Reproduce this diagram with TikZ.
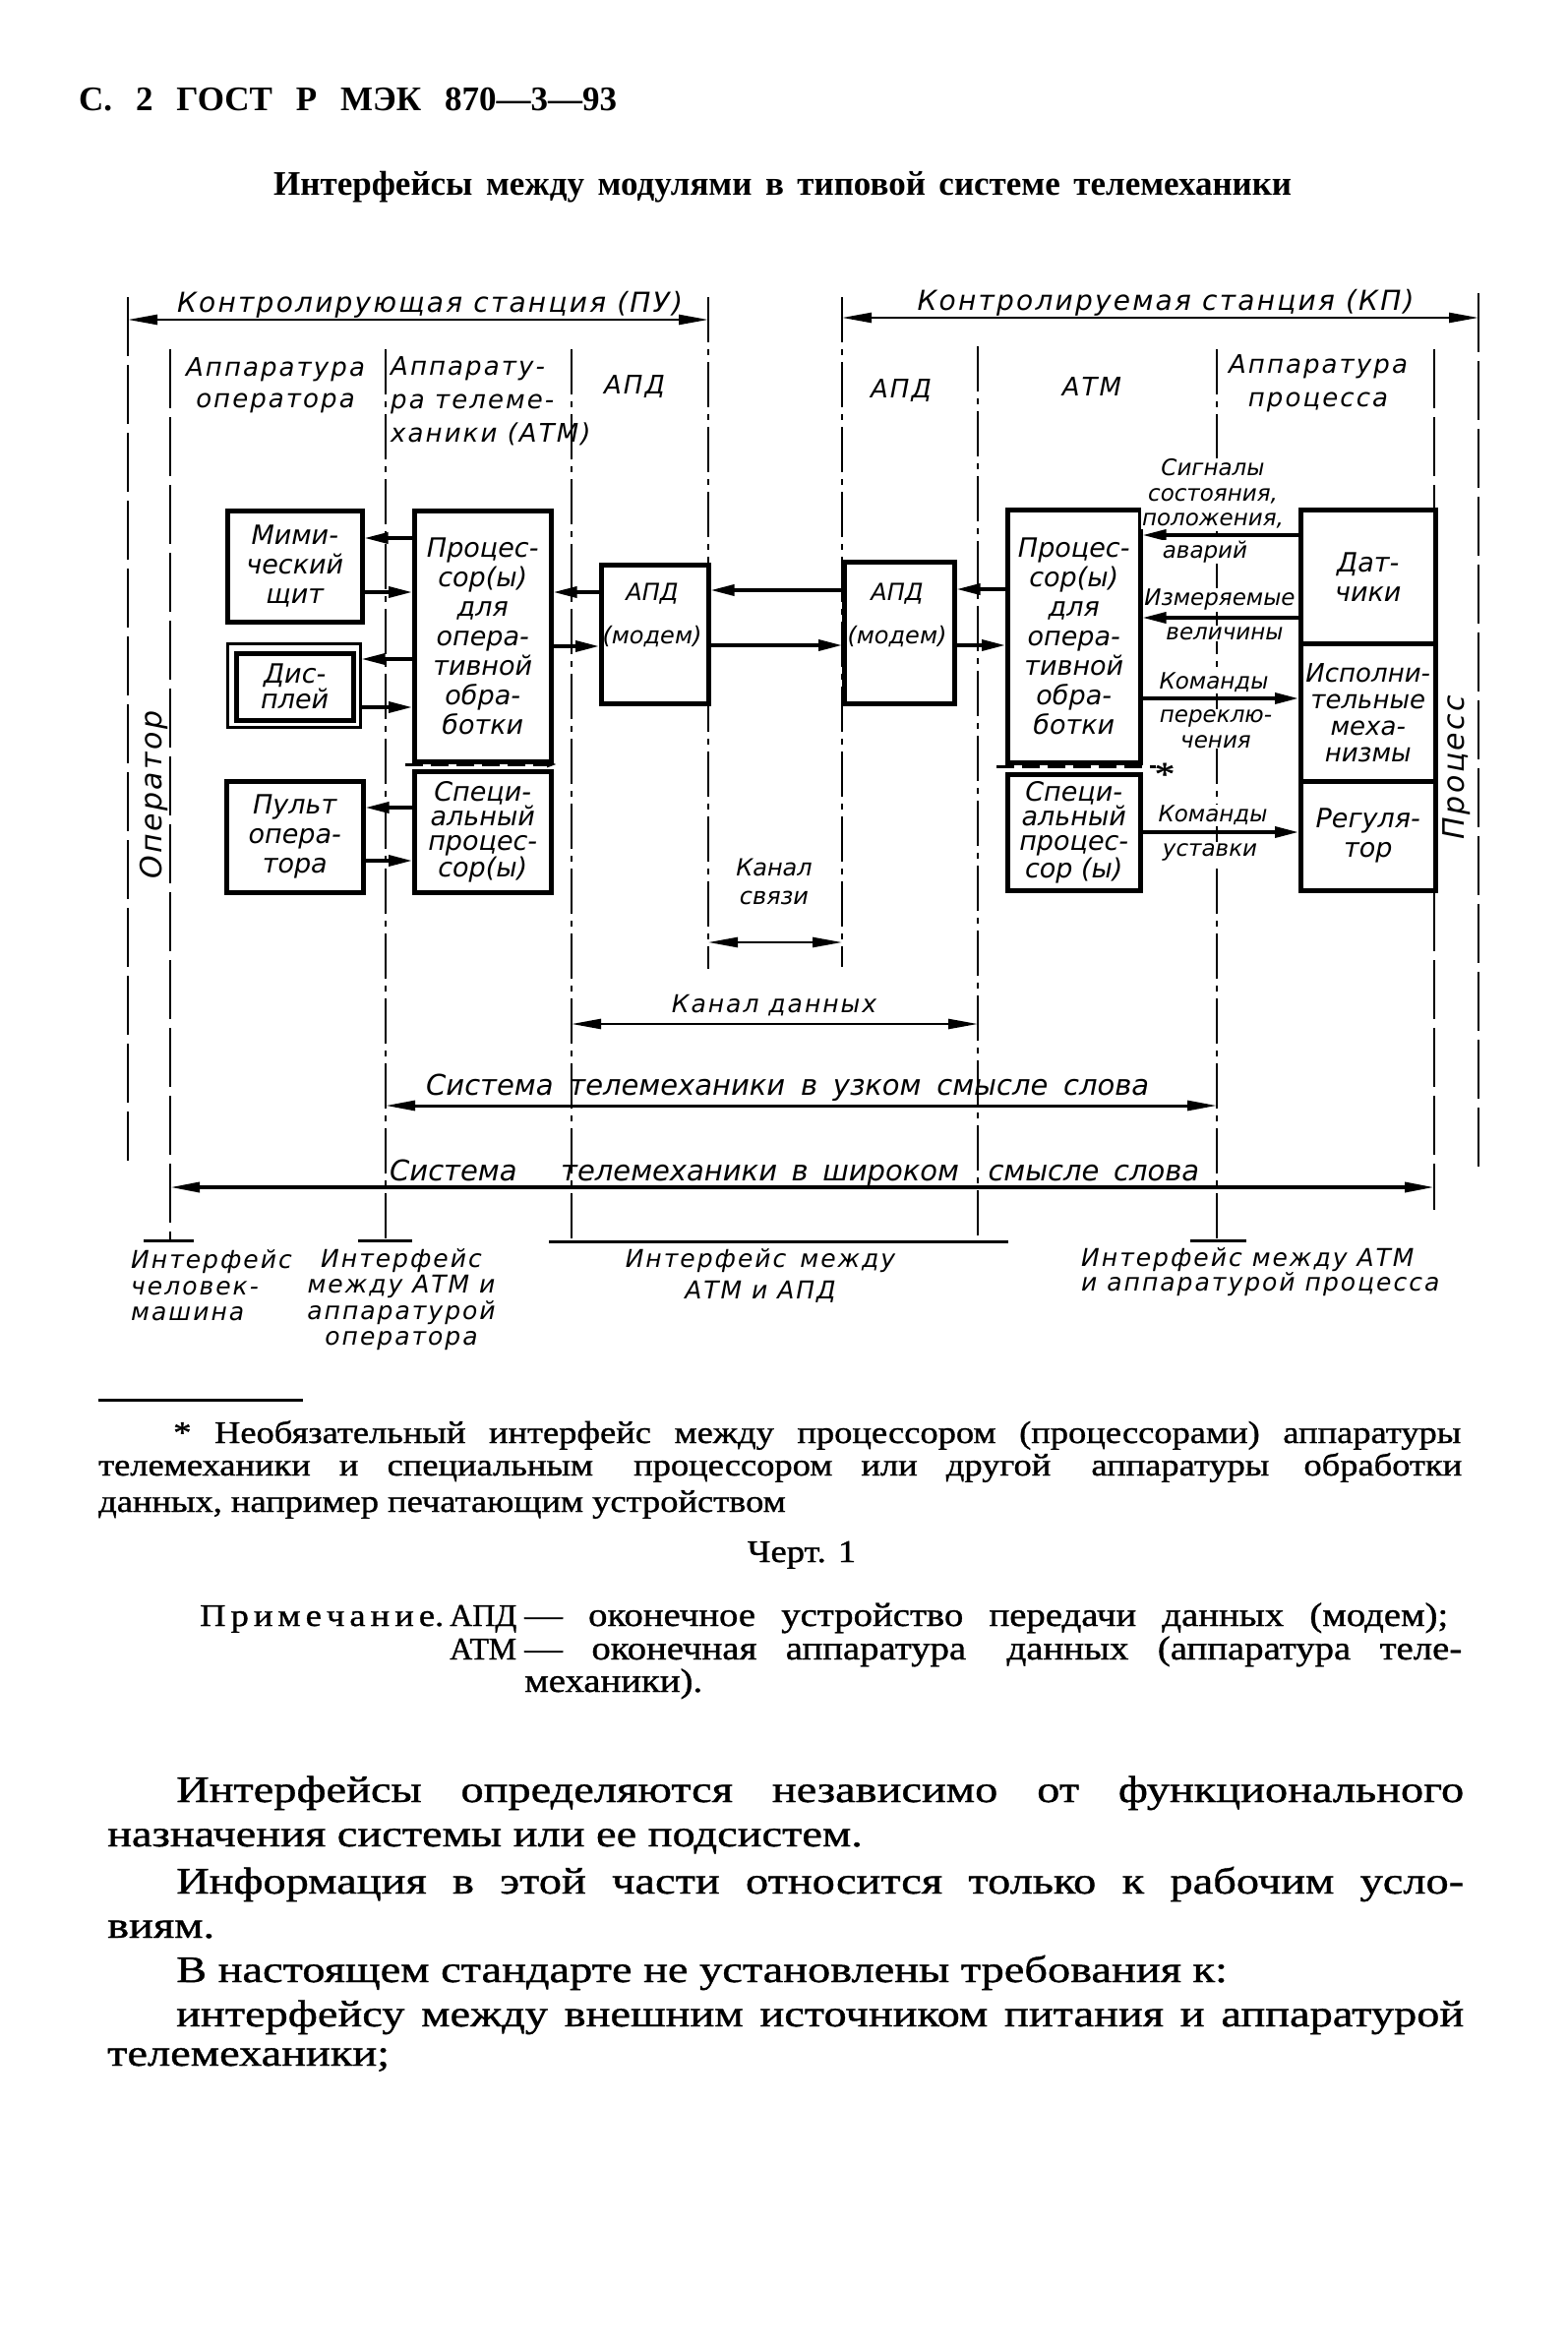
\documentclass[tikz,border=0pt]{standalone}
\usepackage{fontspec}
\usepackage{graphicx}
\setmainfont{Liberation Serif}
\newfontfamily\bodyf[FakeStretch=1.22, FakeBold=1]{Liberation Serif}
\newfontfamily\footf[FakeStretch=1.14, FakeBold=1]{Liberation Serif}
\newfontfamily\footc[FakeBold=1]{Liberation Serif}
\newfontfamily\gost{DejaVu Sans}
\newfontfamily\gostw[LetterSpace=8]{DejaVu Sans}
\usetikzlibrary{arrows.meta}
\newcommand\gs[2]{\gost\itshape\fontsize{#1pt}{#2pt}\selectfont}
\newcommand\gws[2]{\gostw\itshape\fontsize{#1pt}{#2pt}\selectfont}
\newcommand\bs[2]{\bodyf\fontsize{#1pt}{#2pt}\selectfont}
\newcommand\fs[2]{\footf\fontsize{#1pt}{#2pt}\selectfont}
\tikzset{
  boundl/.style={line width=2pt, dash pattern=on 46pt off 7pt on 6pt off 7pt},
  longdl/.style={line width=2pt, dash pattern=on 60pt off 9pt},
  blkbox/.style={draw, line width=4.5pt, anchor=north west, inner sep=0pt, align=center, font=\gs{27}{30}},
  arrw/.style={line width=3.5pt, -{Triangle[length=24pt,width=11pt]}},
  spanar/.style={line width=2.5pt, {Triangle[length=30pt,width=10pt]}-{Triangle[length=30pt,width=10pt]}},
  lblx/.style={inner sep=1pt, align=center, font=\gs{23}{25.5}},
  bodyt/.style={inner sep=0pt, anchor=base west, font=\bs{38}{40}},
  foott/.style={inner sep=0pt, anchor=base west, font=\fs{32}{36}},
}
\begin{document}
\begin{tikzpicture}[x=1pt,y=-1pt]
\fill[white] (0,0) rectangle (1594,2384);
\useasboundingbox (0,0) rectangle (1594,2384);

% header
\node[bodyt, font=\bfseries\fontsize{35pt}{40pt}\selectfont] (hdr) at (80,113) {\makebox[547pt][s]{С. 2 ГОСТ Р МЭК 870—3—93}};
\node[bodyt, font=\bfseries\fontsize{35pt}{40pt}\selectfont] (ttl) at (278,198) {\makebox[1035pt][s]{Интерфейсы между модулями в типовой системе телемеханики}};

% boundary lines
\draw[longdl] (130,302) -- (130,1180);
\draw[longdl] (173,355) -- (173,1261);
\draw[boundl] (392,355) -- (392,1261);
\draw[boundl] (581,355) -- (581,1262);
\draw[boundl] (720,302) -- (720,985);
\draw[boundl] (856,302) -- (856,983);
\draw[boundl] (994,352) -- (994,1262);
\draw[boundl] (1237,355) -- (1237,1261);
\draw[longdl] (1458,355) -- (1458,1230);
\draw[longdl] (1503,298) -- (1503,1187);
\draw[line width=3pt] (146,1261) -- (197,1261);
\draw[line width=3pt] (364,1261) -- (419,1261);
\draw[line width=3pt] (558,1262) -- (1025,1262);
\draw[line width=3pt] (1210,1261) -- (1267,1261);

% station spans
\coordinate (pu1) at (130,325); \coordinate (pu2) at (720,325);
\draw[spanar] (pu1) -- (pu2);
\node[font=\gws{28}{30}, anchor=base, inner sep=0pt] (putxt) at (437,317) {Контролирующая станция (ПУ)};
\coordinate (kp1) at (856,323); \coordinate (kp2) at (1503,323);
\draw[spanar] (kp1) -- (kp2);
\node[font=\gws{28}{30}, anchor=base, inner sep=0pt] (kptxt) at (1185,315) {Контролируемая станция (КП)};

% column headers
\node[font=\gws{26}{32}, align=center] (hop) at (280,392) {Аппаратура\\оператора};
\node[font=\gws{26}{34}, align=left, anchor=north west, inner sep=0pt] (hatm) at (397,362) {Аппарату-\\ра телеме-\\ханики (АТМ)};
\node[font=\gws{26}{32}] (hapd1) at (645,393) {АПД};
\node[font=\gws{26}{32}] (hapd2) at (916,397) {АПД};
\node[font=\gws{26}{32}] (hatm2) at (1110,393) {АТМ};
\node[font=\gws{26}{34}, align=center] (hproc) at (1340,390) {Аппаратура\\процесса};

% rotated
\node[font=\gws{30}{30}, rotate=90] (oper) at (156,808) {Оператор};
\node[font=\gws{30}{30}, rotate=90] (procs) at (1481,780) {Процесс};

% boxes left
\node[blkbox, minimum width=137pt, minimum height=113pt] (mim) at (229,517) {Мими-\\ческий\\щит};
\node[draw, line width=2.5pt, anchor=north west, inner sep=0pt, minimum width=135pt, minimum height=85pt] (dispo) at (230,653) {};
\node[blkbox, minimum width=119pt, minimum height=68pt, font=\gs{27}{26}] (dispi) at (238,662) {Дис-\\плей};
\node[blkbox, minimum width=139pt, minimum height=113pt] (pult) at (228,792) {Пульт\\опера-\\тора};
\node[blkbox, minimum width=139pt, minimum height=255pt] (procL) at (419,517) {Процес-\\сор(ы)\\для\\опера-\\тивной\\обра-\\ботки};
\node[blkbox, minimum width=139pt, minimum height=123pt, font=\gs{27}{25}] (specL) at (419,782) {Специ-\\альный\\процес-\\сор(ы)};
\node[blkbox, minimum width=109pt, minimum height=141pt] (apdL) at (609,572) {};
\node[font=\gs{24}{44}, align=center] (apdLt) at (663,625) {АПД\\(модем)};
% boxes right
\node[blkbox, minimum width=112pt, minimum height=144pt] (apdR) at (856,569) {};
\node[font=\gs{24}{44}, align=center] (apdRt) at (912,625) {АПД\\(модем)};
\node[blkbox, minimum width=135pt, minimum height=257pt] (procR) at (1022,516) {Процес-\\сор(ы)\\для\\опера-\\тивной\\обра-\\ботки};
\node[blkbox, minimum width=135pt, minimum height=118pt, font=\gs{27}{25}] (specR) at (1022,785) {Специ-\\альный\\процес-\\сор (ы)};
\node[blkbox, minimum width=137pt, minimum height=136pt] (datch) at (1320,516) {Дат-\\чики};
\node[blkbox, minimum width=137pt, minimum height=140pt, font=\gs{26}{27}] (ispol) at (1320,652) {Исполни-\\тельные\\меха-\\низмы};
\node[blkbox, minimum width=137pt, minimum height=111pt] (reg) at (1320,792) {Регуля-\\тор};

% arrows
\draw[arrw] (procL.west |- 0,547) -- (mim.east |- 0,547);
\draw[arrw] (mim.east |- 0,602) -- (procL.west |- 0,602);
\draw[arrw] (procL.west |- 0,670) -- (dispo.east |- 0,670);
\draw[arrw] (dispo.east |- 0,719) -- (procL.west |- 0,719);
\draw[arrw] (specL.west |- 0,821) -- (pult.east |- 0,821);
\draw[arrw] (pult.east |- 0,875) -- (specL.west |- 0,875);
\draw[arrw] (apdL.west |- 0,602) -- (procL.east |- 0,602);
\draw[arrw] (procL.east |- 0,657) -- (apdL.west |- 0,657);
\draw[arrw] (apdR.west |- 0,600) -- (apdL.east |- 0,600);
\draw[arrw] (apdL.east |- 0,656) -- (apdR.west |- 0,656);
\draw[arrw] (procR.west |- 0,599) -- (apdR.east |- 0,599);
\draw[arrw] (apdR.east |- 0,656) -- (procR.west |- 0,656);
\draw[arrw] (datch.west |- 0,544) -- (procR.east |- 0,544);
\draw[arrw] (datch.west |- 0,628) -- (procR.east |- 0,628);
\draw[arrw] (procR.east |- 0,710) -- (ispol.west |- 0,710);
\draw[arrw] (specR.east |- 0,846) -- (reg.west |- 0,846);

% optional interface dashed lines
\coordinate (dl1) at (412,777); \coordinate (dl2) at (566,777);
\draw[line width=3pt, dash pattern=on 18pt off 8pt, -{Triangle[length=10pt,width=6pt]}] (dl1) -- (dl2);
\coordinate (dr1) at (1013,779); \coordinate (dr2) at (1175,779);
\draw[line width=3pt, dash pattern=on 18pt off 8pt] (dr1) -- (dr2);
\node[font=\bs{34}{34}, inner sep=0pt] (star) at (1184,787) {*};

% signal labels
\node[lblx, fill=white] (s1) at (1233,502) {Сигналы\\состояния,\\положения,};
\node[lblx, fill=white] (s2) at (1225,561) {аварий};
\node[lblx, fill=white] (s3) at (1240,610) {Измеряемые};
\node[lblx, fill=white] (s4) at (1245,644) {величины};
\node[lblx, fill=white] (s5) at (1234,694) {Команды};
\node[lblx, fill=white] (s6) at (1236,741) {переклю-\\чения};
\node[lblx, fill=white] (s7) at (1233,829) {Команды};
\node[lblx, fill=white] (s8) at (1230,866) {уставки};

% lower spans
\coordinate (ks1) at (720,958); \coordinate (ks2) at (856,958);
\draw[spanar] (ks1) -- (ks2);
\node[font=\gs{24}{29}, align=center] (kstxt) at (787,896) {Канал\\связи};
\coordinate (cd1) at (581,1041); \coordinate (cd2) at (994,1041);
\draw[spanar] (cd1) -- (cd2);
\node[font=\gws{25}{28}] (cdtxt) at (787,1022) {Канал данных};
\coordinate (nw1) at (392,1124); \coordinate (nw2) at (1237,1124);
\draw[spanar, line width=3pt] (nw1) -- (nw2);
\node[font=\gs{29}{30}, anchor=base west, inner sep=0pt] (nwtxt) at (433,1113) {\makebox[735pt][s]{Система телемеханики в узком смысле слова}};
\coordinate (bw1) at (173,1207); \coordinate (bw2) at (1458,1207);
\draw[spanar, line width=3.5pt] (bw1) -- (bw2);
\node[font=\gs{29}{30}, anchor=base west, inner sep=0pt] (bwtxt) at (396,1200) {\makebox[823pt][s]{Система\hspace{30pt} телемеханики в широком\hspace{15pt} смысле слова}};

% interface labels
\node[font=\gws{25}{26.5}, align=left, anchor=west, inner sep=0pt] (ihm) at (133,1307) {Интерфейс\\человек-\\машина};
\node[font=\gws{25}{26.5}, align=center, inner sep=0pt] (iatm) at (408,1321) {Интерфейс\\между АТМ и\\аппаратурой\\оператора};
\node[font=\gws{25}{32}, align=center, inner sep=0pt] (iapd) at (773,1297) {Интерфейс\hspace{14pt}между\\АТМ и АПД};
\node[font=\gws{25}{25}, align=left, anchor=west, inner sep=0pt] (iproc) at (1099,1293) {Интерфейс между АТМ\\и аппаратурой процесса};

% footnote
\draw[line width=3pt] (100,1423) -- (308,1423);
\node[foott] (fn1) at (176,1467) {\makebox[1309pt][s]{* Необязательный интерфейс между процессором (процессорами) аппаратуры}};
\node[foott] (fn2) at (100,1500) {\makebox[1386pt][s]{телемеханики и специальным\hspace{12pt} процессором или другой\hspace{12pt} аппаратуры\hspace{6pt} обработки}};
\node[foott] (fn3) at (100,1537) {данных, например печатающим устройством};
\node[foott, anchor=base] (chert) at (815,1588) {Черт. 1};
\node[foott, font=\fs{32}{34}] (pr1) at (203,1653) {\makebox[248pt][s]{П\hfil р\hfil и\hfil м\hfil е\hfil ч\hfil а\hfil н\hfil и\hfil е.}};
\node[foott, font=\footc\fontsize{32pt}{34pt}\selectfont] (pr2) at (457,1653) {АПД};
\node[foott, font=\fs{34}{36}] (pr3) at (533,1653) {\makebox[939pt][s]{— оконечное устройство передачи данных (модем);}};
\node[foott, font=\footc\fontsize{32pt}{34pt}\selectfont] (pr4) at (457,1687) {АТМ};
\node[foott, font=\fs{34}{36}] (pr5) at (533,1687) {\makebox[953pt][s]{— оконечная аппаратура\hspace{12pt} данных (аппаратура теле-}};
\node[foott, font=\fs{34}{36}] (pr6) at (533,1720) {механики).};

% body
\node[bodyt] (b1) at (179,1832) {\makebox[1309pt][s]{Интерфейсы определяются независимо от функционального}};
\node[bodyt] (b2) at (109,1877) {назначения системы или ее подсистем.};
\node[bodyt] (b3) at (179,1925) {\makebox[1309pt][s]{Информация в этой части относится только к рабочим усло-}};
\node[bodyt] (b4) at (109,1970) {виям.};
\node[bodyt] (b5) at (179,2015) {В настоящем стандарте не установлены требования к:};
\node[bodyt] (b6) at (179,2060) {\makebox[1309pt][s]{интерфейсу между внешним источником питания и аппаратурой}};
\node[bodyt] (b7) at (109,2100) {телемеханики;};
\end{tikzpicture}
\end{document}
